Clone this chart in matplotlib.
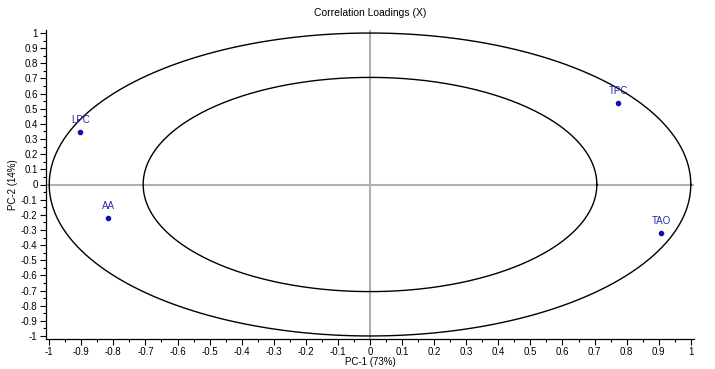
import numpy as np
import matplotlib.pyplot as plt
from matplotlib.ticker import MultipleLocator, FuncFormatter

plt.rcParams['font.family'] = ['Liberation Sans', 'DejaVu Sans']

# Loadings
variables = ['LPC', 'AA', 'TPC', 'TAO']
pc1 = [-0.903, -0.816, 0.773, 0.907]
pc2 = [0.348, -0.223, 0.538, -0.321]

# Explained-variance circles (100% and 50%)
radii = [1.0, np.sqrt(0.5)]

fig = plt.figure(figsize=(7.15, 3.69), dpi=100)
ax = fig.add_axes([46 / 715, 30 / 369, 648 / 715, 309 / 369])

t = np.linspace(0, 2 * np.pi, 400)
for r in radii:
    ax.plot(r * np.cos(t), r * np.sin(t), color='black', lw=1.0, zorder=2)

ax.axhline(0, color='#b0b0b0', lw=1.5, zorder=1)
ax.axvline(0, color='#b0b0b0', lw=1.5, zorder=1)

ax.scatter(pc1, pc2, s=9, color='#1010b0', zorder=3)
for name, x, y in zip(variables, pc1, pc2):
    ax.annotate(name, (x, y), xytext=(0, 5), textcoords='offset points',
                ha='center', va='bottom', fontsize=7, color='#2828a8')

ax.set_xlim(-1.01, 1.01)
ax.set_ylim(-1.02, 1.02)

for s in ['top', 'right']:
    ax.spines[s].set_visible(False)
for s in ['left', 'bottom']:
    ax.spines[s].set_linewidth(0.9)

fmt = FuncFormatter(lambda v, p: '0' if abs(v) < 1e-9 else ('%g' % round(v, 1)))
ax.xaxis.set_major_locator(MultipleLocator(0.1))
ax.yaxis.set_major_locator(MultipleLocator(0.1))
ax.xaxis.set_minor_locator(MultipleLocator(0.05))
ax.yaxis.set_minor_locator(MultipleLocator(0.05))
ax.xaxis.set_major_formatter(fmt)
ax.yaxis.set_major_formatter(fmt)
ax.tick_params(which='major', length=4, width=0.8, labelsize=7, pad=2)
ax.tick_params(which='minor', length=2.5, width=0.8)

ax.set_title('Correlation Loadings (X)', fontsize=7.5, pad=10)
ax.set_xlabel('PC-1 (73%)', fontsize=7, labelpad=0)
ax.set_ylabel('PC-2 (14%)', fontsize=7, labelpad=2)

fig.savefig('out.png', dpi=100)
